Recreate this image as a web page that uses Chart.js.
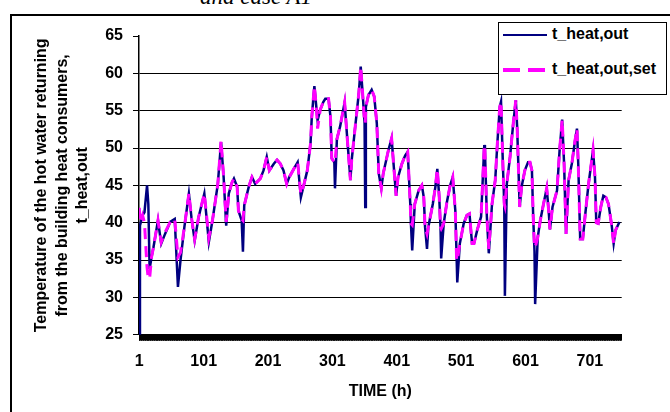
<!DOCTYPE html>
<html>
<head>
<meta charset="utf-8">
<script src="https://cdn.jsdelivr.net/npm/chart.js@4"></script>
<style>
body{margin:0;background:#fff;font-family:"Liberation Sans",Arial,sans-serif;}
#wrap{position:relative;width:670px;height:412px;overflow:hidden;background:#fff;}
#frame{position:absolute;left:10px;top:14px;width:700px;height:450px;border:2px solid #000;}
#caption{position:absolute;left:0;top:-15px;width:512px;text-align:center;font:italic 23px "Liberation Serif",serif;line-height:1;}
#chart{position:absolute;left:0;top:0;}
#legend{position:absolute;left:498px;top:22px;width:169px;height:73px;border:1px solid #000;background:#fff;box-sizing:border-box;}
.item{position:absolute;left:4px;height:20px;line-height:20px;font-weight:bold;font-size:16px;white-space:nowrap;}
.swatch{display:inline-block;width:44px;vertical-align:middle;margin-right:5px;}
</style>
</head>
<body>
<div id="wrap">
  <div id="frame"></div>
  <div id="caption">and case A1</div>
  <canvas id="chart" width="670" height="412"></canvas>
  <div id="legend"></div>
</div>
<script>
// hours where the curves turn, and both series at those hours
var hours = [1,2,6,9,13,15,17,20,23,30,35,41,49,56,61,65,71,78,82,87,93,102,109,115,123,128,132,136,140,145,
  148,153,155,160,162,164,171,176,181,189,194,199,203,210,215,220,225,230,234,241,247,252,257,262,267,269,273,276,278,282,
  287,290,295,298,300,304,305,308,313,320,323,329,331,336,342,345,348,351,352,353,357,362,366,370,373,377,380,388,393,396,
  400,403,409,414,418,422,423,425,429,435,440,443,445,448,450,457,461,464,467,469,470,474,479,484,488,492,494,495,499,505,
  510,514,518,521,526,532,537,538,541,544,549,554,557,561,563,566,568,569,572,577,582,586,588,592,595,600,605,608,611,613,
  615,616,620,624,629,634,637,639,643,650,654,658,661,664,668,673,678,681,683,686,690,694,699,704,706,709,711,714,718,722,
  726,730,735,738,741,747];

var tHeatOut = [25,39.6,41,41.4,45,42.5,33.8,35.4,36.7,40.3,37.2,38.5,40.1,40.5,31.4,35,39.4,43.9,40.7,37.6,40.7,43.9,37.4,40.5,45.2,50.8,46.1,39.6,43.9,45.4,
  45.9,44.8,41.6,40.3,36.1,42.3,44.8,46.1,45.2,45.9,47,48.8,47,47.9,48.4,47.9,47,45.2,46.1,47.2,48.1,43.4,45.2,47,50.6,54.2,58.3,55.5,53.7,55.1,
  56.2,56.6,56.6,54.2,48.6,48.1,44.6,51.2,52.9,56.1,52.5,45.7,48.4,52.5,57.3,60.9,57.3,53.3,42.1,55.5,57.1,57.8,56.9,53.3,46.6,44.6,46.6,49.7,51.3,47.9,
  43.6,46.1,47.9,49,49.5,42.5,39.9,36.3,42.5,44.3,45,43.4,39.4,36.5,39.4,42.5,44.8,47.2,43.4,39.4,35.2,39.9,42.8,45,46.1,41.6,35.4,32,37.2,39.9,
  41,41.2,37.2,37.2,39,40.8,50.4,49.7,40.8,35.9,42.5,45.7,50.2,55.5,56.2,47.5,42.5,30.2,45.2,48.8,53.3,56.4,52.9,42.1,44.8,47,48.1,48.1,47,40.8,
  36.2,29.1,38,40.3,42.5,44.6,41.6,39.1,42.1,44.3,49.7,53.8,47.9,38.5,45.7,47.9,51,52.6,47.9,37.8,37.8,41.2,45.2,48.4,49.7,46.1,40,39.9,42.1,43.6,
  43.4,42.5,39.6,37.2,39,40.1];

var tHeatOutSet = [42,40,41,40,34,32.5,32.5,35.4,36.7,40.3,37.4,38.7,40.1,40.5,35.4,36,39.4,43.9,40.7,37.8,40.7,43.9,38,40.5,45.2,51,46.1,40.1,43.9,45.4,
  45.9,44.8,41.6,40.5,40.3,42.3,44.8,46.1,45.2,45.9,47,48.8,47,47.9,48.4,47.9,47,45.2,46.1,47.2,48.1,43.8,45.2,47,50.6,54.2,58.3,55.5,52.6,55.1,
  56.2,56.6,56.6,54.2,48.6,48.1,48,51.2,52.9,56.1,52.5,45.7,48.4,52.5,57.3,60.9,57.3,53.3,53.4,55.5,57.1,57.8,56.9,53.3,46.6,44.6,46.6,49.7,51.3,47.9,
  43.6,46.1,47.9,49,49.5,42.5,39.9,39.7,42.5,44.3,45,43.4,39.4,38.5,39.4,42.5,44.8,47.2,43.4,39.4,39.2,39.9,42.8,45,46.1,41.6,35,34.9,37.2,39.9,
  41,41.2,37.2,37.2,39,40.8,50.4,49.7,40.8,36.5,42.5,45.7,50.2,55.5,56.2,47.5,42.5,42.2,45.2,48.8,53.3,56.4,52.9,42.1,44.8,47,48.1,48.1,47,40.8,
  36.7,36.7,38,40.3,42.5,44.6,41.6,39.1,42.1,44.3,49.7,53.8,47.9,38.5,45.7,47.9,51,52.6,47.9,37.8,37.8,41.2,45.2,48.4,49.7,46.1,40,39.9,42.1,43.6,
  43.4,42.5,39.6,37.2,39,40.1];

var seriesNames = ['t_heat,out', 't_heat,out,set'];
var xLabels = [1,101,201,301,401,501,601,701];
var hourCount = 750; // one category tick per hour on the time axis
var yTitle = ['Temperature of the hot water returning', 'from the building heat consumers,', 't_heat,out'];
var xTitle = 'TIME (h)';

function points(ys){
  var pts = [];
  for (var i = 0; i < hours.length; i++){
    pts.push({x: hours[i], y: ys[i]});
  }
  return pts;
}

var hourTicks = [];
for (var h = 1; h <= hourCount; h++){
  hourTicks.push({value: h});
}

Chart.defaults.font.family = '"Liberation Sans", Arial, sans-serif';
Chart.defaults.font.size = 16;
Chart.defaults.font.weight = 'bold';
Chart.defaults.color = '#000';

var chart = new Chart(document.getElementById('chart').getContext('2d'), {
  type: 'line',
  data: {
    datasets: [{
      label: seriesNames[0],
      data: points(tHeatOut),
      borderColor: '#000080',
      borderWidth: 2.5,
      pointRadius: 0,
      tension: 0,
      order: 1
    }, {
      label: seriesNames[1],
      data: points(tHeatOutSet),
      borderColor: '#ff00ff',
      borderWidth: 3,
      borderDash: [11, 7],
      pointRadius: 0,
      tension: 0,
      order: 0
    }]
  },
  options: {
    responsive: false,
    animation: false,
    layout: {padding: {top: 36, right: 48.3, bottom: 0, left: 0}},
    plugins: {legend: {display: false}, tooltip: {enabled: false}},
    scales: {
      x: {
        type: 'linear',
        min: 0.5,
        max: hourCount + 0.5,
        afterBuildTicks: function(s){ s.ticks = hourTicks.slice(); },
        afterFit: function(s){ s.height = 77.3; },
        ticks: {
          autoSkip: false,
          maxRotation: 0,
          padding: 11,
          callback: function(v){ return xLabels.indexOf(v) >= 0 ? String(v) : ''; }
        },
        grid: {drawOnChartArea: false, tickLength: 6, color: '#000', lineWidth: 1},
        border: {color: '#000', width: 1},
        title: {display: true, text: xTitle, padding: {top: 0, bottom: 10}, font: {size: 16, weight: 'bold', lineHeight: 1.3}}
      },
      y: {
        min: 25,
        max: 65,
        afterFit: function(s){ s.width = 139; },
        ticks: {stepSize: 5, padding: 10},
        grid: {
          color: function(c){ return c.tick && c.tick.value === 65 ? 'rgba(0,0,0,0)' : '#000'; },
          tickColor: '#000',
          tickLength: 6,
          lineWidth: 1
        },
        border: {color: '#000', width: 1.5},
        title: {display: true, text: yTitle, padding: {top: 31, bottom: 0}, font: {size: 16, weight: 'bold', lineHeight: 1.3}}
      }
    }
  }
});

// legend drawn as html, built from the datasets
var legend = document.getElementById('legend');
var itemTops = [1, 36];
chart.data.datasets.forEach(function(ds, i){
  var item = document.createElement('div');
  item.className = 'item';
  item.style.top = itemTops[i] + 'px';
  var sw = document.createElement('span');
  sw.className = 'swatch';
  if (ds.borderDash){
    sw.style.height = '4px';
    sw.style.background = 'repeating-linear-gradient(to right,' + ds.borderColor + ' 0 17px, transparent 17px 25px)';
  } else {
    sw.style.height = '2px';
    sw.style.background = ds.borderColor;
  }
  item.appendChild(sw);
  item.appendChild(document.createTextNode(ds.label));
  legend.appendChild(item);
});
</script>
</body>
</html>
